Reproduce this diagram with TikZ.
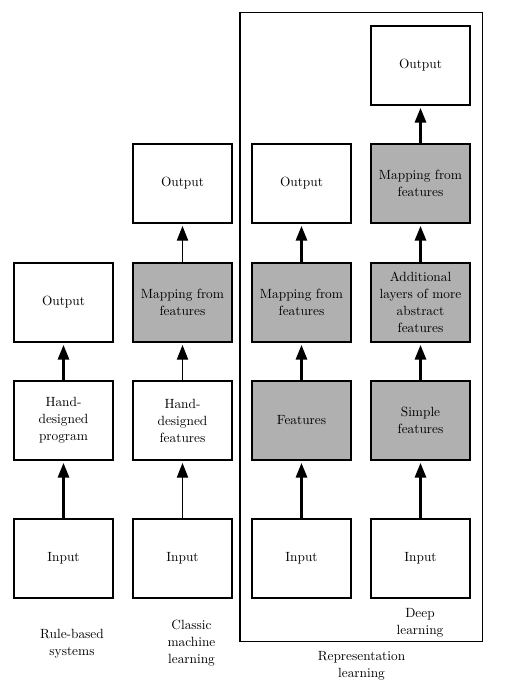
\documentclass[tikz,border=0pt]{standalone}
\usepackage{amsmath, amssymb}
\usepackage[dvipsnames]{xcolor}
\usepackage{tikz}
\usetikzlibrary{arrows.meta}

\definecolor{boxgray}{RGB}{176,176,176}

\begin{document}
\begin{tikzpicture}[x=0.75pt,y=0.75pt,yscale=-1,xscale=1,
  every node/.style={font=\fontsize{10}{12.75}\selectfont},
  box/.style={draw, line width=1.3pt, minimum width=74.25pt, minimum height=59.25pt, align=center, inner sep=0pt},
  learned/.style={box, fill=boxgray},
  arr/.style={line width=1.6pt, -{Triangle[length=11pt,width=8.5pt]}, shorten >=1.6pt},
  thinarr/.style={arr, line width=0.8pt},
  caption/.style={align=center, inner sep=0.75pt}]
\useasboundingbox (0,0) rectangle (521,685);

%Shape: Rectangle [representation learning]
\draw [line width=1.2pt] (240,12.5) rectangle (482.5,641.5) ;

%Rule-based systems
\draw (63.5,558.5) node [box] (rbIn) {Input};
\draw (63.5,420.5) node [box] (rbProg) {Hand-\\designed\\program};
\draw (63.5,302.5) node [box] (rbOut) {Output};
%Classic machine learning
\draw (182.5,558.5) node [box] (cmIn) {Input};
\draw (182.5,420.5) node [box] (cmFeat) {Hand-\\designed\\features};
\draw (182.5,302.5) node [learned] (cmMap) {Mapping from\\features};
\draw (182.5,183.5) node [box] (cmOut) {Output};
%Representation learning
\draw (301.5,558.5) node [box] (rlIn) {Input};
\draw (301.5,420.5) node [learned] (rlFeat) {Features};
\draw (301.5,302.5) node [learned] (rlMap) {Mapping from\\features};
\draw (301.5,183.5) node [box] (rlOut) {Output};
%Deep learning
\draw (420.5,558.5) node [box] (dlIn) {Input};
\draw (420.5,420.5) node [learned] (dlSimple) {Simple\\features};
\draw (420.5,302.5) node [learned] (dlLayers) {Additional\\layers of more\\abstract\\features};
\draw (420.5,183.5) node [learned] (dlMap) {Mapping from\\features};
\draw (420.5,65.5) node [box] (dlOut) {Output};

%Straight Lines
\draw [arr] (rbIn) -- (rbProg) ;
\draw [arr] (rbProg) -- (rbOut) ;
\draw [thinarr] (cmIn) -- (cmFeat) ;
\draw [thinarr] (cmFeat) -- (cmMap) ;
\draw [thinarr] (cmMap) -- (cmOut) ;
\draw [arr] (rlIn) -- (rlFeat) ;
\draw [arr] (rlFeat) -- (rlMap) ;
\draw [arr] (rlMap) -- (rlOut) ;
\draw [arr] (dlIn) -- (dlSimple) ;
\draw [arr] (dlSimple) -- (dlLayers) ;
\draw [arr] (dlLayers) -- (dlMap) ;
\draw [arr] (dlMap) -- (dlOut) ;

% Text Node
\draw (72,644) node [caption] (rbLabel) {Rule-based\\systems};
% Text Node
\draw (191.5,643) node [caption] (cmLabel) {Classic\\machine\\learning};
% Text Node
\draw (420,622.5) node [caption] (dlLabel) {Deep\\learning};
% Text Node
\draw (361.5,665.5) node [caption] (rlLabel) {Representation\\learning};

\end{tikzpicture}
\end{document}
